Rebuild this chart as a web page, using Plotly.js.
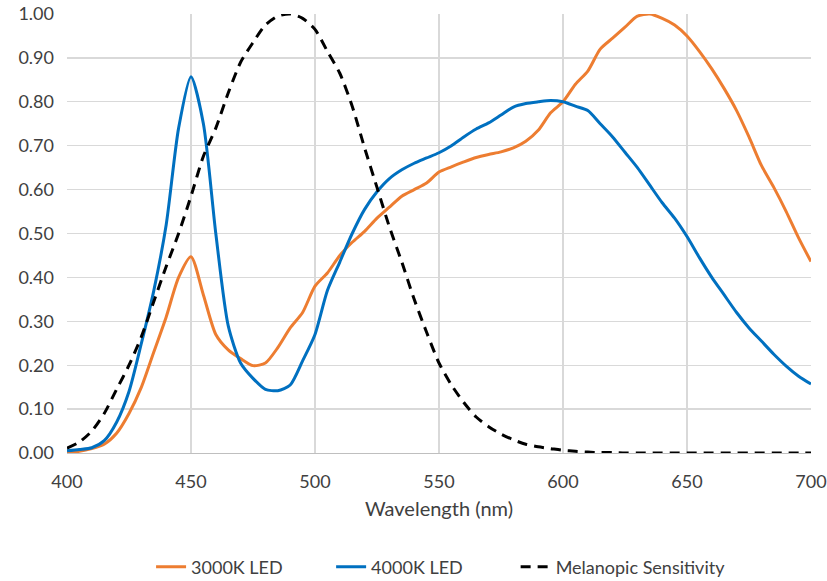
<!DOCTYPE html>
<html>
<head>
<meta charset="utf-8">
<script src="https://cdn.plot.ly/plotly-3.0.1.min.js"></script>
<style>html,body{margin:0;padding:0;background:#fff;}#chart{width:827px;height:581px;}</style>
</head>
<body>
<div id="chart"></div>
<script>
// Wavelength grid (nm)
const wavelengths = [400,405,410,415,420,425,430,435,440,445,450,455,460,465,470,475,480,485,490,495,
  500,505,510,515,520,525,530,535,540,545,550,555,560,565,570,575,580,585,590,595,
  600,605,610,615,620,625,630,635,640,645,650,655,660,665,670,675,680,685,690,695,700];

const led3000K = [0.002,0.004,0.010,0.020,0.045,0.090,0.150,0.230,0.310,0.400,0.447,0.360,0.270,0.235,0.215,0.199,0.205,0.240,0.285,0.320,
  0.380,0.410,0.450,0.480,0.505,0.535,0.560,0.585,0.600,0.615,0.640,0.652,0.663,0.673,0.680,0.686,0.695,0.710,0.735,0.775,
  0.800,0.840,0.870,0.920,0.945,0.970,0.995,1.000,0.990,0.975,0.950,0.915,0.875,0.830,0.780,0.720,0.655,0.605,0.550,0.490,0.436];

const led4000K = [0.005,0.008,0.012,0.028,0.070,0.140,0.250,0.370,0.520,0.740,0.857,0.750,0.500,0.290,0.205,0.170,0.145,0.142,0.155,0.210,
  0.270,0.370,0.435,0.500,0.555,0.595,0.625,0.645,0.660,0.672,0.684,0.700,0.720,0.738,0.752,0.770,0.788,0.796,0.800,0.803,
  0.800,0.790,0.780,0.750,0.720,0.685,0.650,0.610,0.570,0.535,0.493,0.445,0.400,0.360,0.320,0.285,0.255,0.225,0.198,0.175,0.157];

const melanopic = [0.011,0.025,0.050,0.090,0.145,0.200,0.265,0.345,0.425,0.500,0.585,0.676,0.740,0.820,0.890,0.935,0.975,0.995,1.000,0.990,
  0.965,0.915,0.865,0.790,0.695,0.605,0.515,0.435,0.350,0.275,0.205,0.155,0.115,0.082,0.060,0.043,0.030,0.020,0.014,0.010,
  0.006,0.004,0.002,0.001,0.001,0,0,0,0,0,0,0,0,0,0,0,0,0,0,0,0];

const seriesNames = ['3000K LED','4000K LED','Melanopic Sensitivity'];
const xTickVals = [400,450,500,550,600,650,700];
const yTickVals = [0,0.1,0.2,0.3,0.4,0.5,0.6,0.7,0.8,0.9,1.0];

const FONT = 'Lato, "Open Sans", sans-serif';
const traces = [
  {x: wavelengths, y: led3000K, name: seriesNames[0], type: 'scatter', mode: 'lines', legend: 'legend',
   line: {color: '#ED7D31', width: 3, shape: 'spline', smoothing: 0.7}},
  {x: wavelengths, y: led4000K, name: seriesNames[1], type: 'scatter', mode: 'lines', legend: 'legend2',
   line: {color: '#0070C0', width: 3, shape: 'spline', smoothing: 0.7}},
  {x: wavelengths, y: melanopic, name: seriesNames[2], type: 'scatter', mode: 'lines', legend: 'legend3',
   line: {color: '#000000', width: 3, dash: '10px,7px', shape: 'spline', smoothing: 0.7}}
];

function legendAt(xp) {
  return {orientation: 'h', x: xp, xanchor: 'left', y: -0.26, yanchor: 'middle',
          bgcolor: 'rgba(0,0,0,0)', font: {family: FONT, size: 18, color: '#404040'}};
}

const layout = {
  width: 827, height: 581,
  margin: {l: 67, r: 16, t: 14, b: 128, autoexpand: false},
  paper_bgcolor: '#ffffff', plot_bgcolor: '#ffffff',
  font: {family: FONT, color: '#404040', size: 18},
  showlegend: true,
  legend: legendAt(0.113),
  legend2: legendAt(0.355),
  legend3: legendAt(0.603),
  xaxis: {range: [400, 700], tickvals: xTickVals, ticktext: xTickVals.map(String),
          showgrid: true, gridcolor: '#d9d9d9', gridwidth: 1.3,
          showline: true, linecolor: '#bfbfbf', linewidth: 1.3,
          zeroline: false, ticks: '', ticklabelstandoff: 12,
          tickfont: {family: FONT, size: 18, color: '#404040'},
          title: {text: 'Wavelength (nm)', font: {family: FONT, size: 20, color: '#404040'}, standoff: 11}},
  yaxis: {range: [0, 1], tickvals: yTickVals, ticktext: yTickVals.map(v => v.toFixed(2)),
          showgrid: true, gridcolor: '#d9d9d9', gridwidth: 1.3,
          showline: false, zeroline: false, ticks: '', ticklabelstandoff: 12,
          tickfont: {family: FONT, size: 18, color: '#404040'}}
};

Plotly.newPlot('chart', traces, layout, {displayModeBar: false, staticPlot: true});
</script>
</body>
</html>
